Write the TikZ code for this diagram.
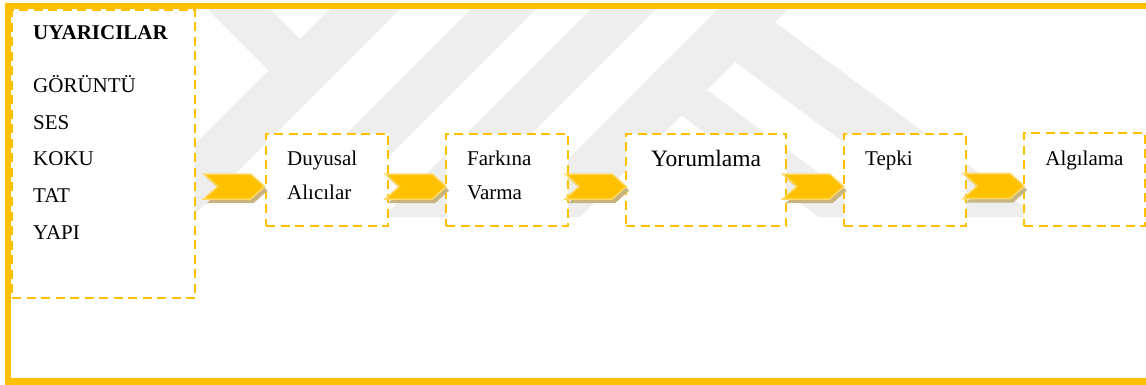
\documentclass[tikz,border=0pt]{standalone}
\usepackage{fontspec}
\setmainfont{Liberation Serif}
\usetikzlibrary{calc}
\definecolor{gold}{HTML}{FFC000}
\definecolor{goldlight}{HTML}{FFD966}
\definecolor{shadowtan}{HTML}{C8B47E}
\definecolor{wmgray}{HTML}{EEEEEE}
\begin{document}
\begin{tikzpicture}[x=1pt,y=-1pt,
  stagebox/.style={draw=gold, fill=white, line width=2.6pt,
    dash pattern=on 9pt off 5.5pt, rectangle, inner sep=0pt},
  lbl/.style={font=\fontsize{21}{25}\selectfont, inner sep=0pt, anchor=base west},
  chevron/.pic={
    \fill[shadowtan] (-58,-8.5) -- (-11,-8.5) -- (3,4) -- (-11,16.5) -- (-58,16.5) -- (-44,4) -- cycle;
    \filldraw[fill=gold, draw=goldlight, line width=1.5pt, line join=miter]
      (-61,-12.5) -- (-14,-12.5) -- (0,0) -- (-14,12.5) -- (-61,12.5) -- (-47,0) -- cycle;
  }]
\useasboundingbox (0,0) rectangle (1146,385);

% faint background emblem made of diagonal stripes
\begin{scope}
  \clip (11,9) rectangle (1146,378);
  \fill[wmgray] (198,0) -- (261,0) -- (300,39) -- (339,0) -- (409,0) -- (192,217) -- (122,217) -- (268.5,70.5) -- cycle;
  \fill[wmgray] (480,0) -- (545,0) -- (328,217) -- (263,217) -- cycle;
  \fill[wmgray] (600,0) -- (665,0) -- (448,217) -- (383,217) -- cycle;
  \fill[wmgray] (727,0) -- (797,0) -- (580,217) -- (510,217) -- cycle;
  \fill[wmgray] (775,22) -- (1038.3,217) -- (944.3,217) -- (694.8,32.2) -- cycle;
  \fill[wmgray] (666.8,60.2) -- (878.5,217) -- (818.5,217) -- (641.3,85.7) -- cycle;
\end{scope}

% outer frame
\draw[gold, line width=6.5pt] (8,6) rectangle (1150,381.5);

% stimulus column
\node[stagebox, minimum width=183pt, minimum height=288pt] (stim) at (103.5,154) {};
\node[lbl, font=\fontsize{21}{25}\selectfont\bfseries] (s0) at (33,40) {UYARICILAR};
\node[lbl] (s1) at (33,92.7) {GÖRÜNTÜ};
\node[lbl] (s2) at (33,129.3) {SES};
\node[lbl] (s3) at (33,165.9) {KOKU};
\node[lbl] (s4) at (33,202.5) {TAT};
\node[lbl] (s5) at (33,239.1) {YAPI};

% process stages
\node[stagebox, minimum width=122pt, minimum height=92pt] (duy) at (327,180) {};
\node[stagebox, minimum width=122pt, minimum height=92pt] (fark) at (507,180) {};
\node[stagebox, minimum width=160pt, minimum height=92pt] (yor) at (706,180) {};
\node[stagebox, minimum width=122pt, minimum height=92pt] (tep) at (905,180) {};
\node[stagebox, minimum width=121pt, minimum height=93pt] (alg) at (1084.5,179.5) {};

\node[lbl] (d1) at (287,165) {Duyusal};
\node[lbl] (d2) at (287,200) {Alıcılar};
\node[lbl] (f1) at (467,165) {Farkına};
\node[lbl] (f2) at (467,200) {Varma};
\node[lbl, anchor=base, font=\fontsize{23.5}{28}\selectfont] (y1) at (706,167) {Yorumlama};
\node[lbl] (t1) at (865,165) {Tepki};
\node[lbl, anchor=base] (a1) at (1084.4,165) {Algılama};

% chevron connectors
\pic at ($(duy.west)+(0,6.5)$) {chevron};
\pic at ($(fark.west)+(1.5,6.5)$) {chevron};
\pic at ($(yor.west)+(1.5,6.5)$) {chevron};
\pic at ($(tep.west)+(1,6.5)$) {chevron};
\pic at ($(alg.west)+(1.5,6.5)$) {chevron};
\end{tikzpicture}
\end{document}
